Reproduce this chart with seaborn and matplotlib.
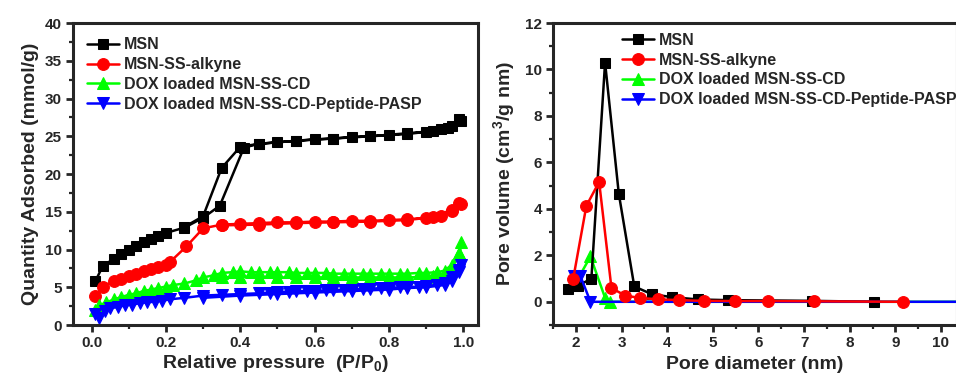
import numpy as np
import matplotlib
matplotlib.use("Agg")
import matplotlib.pyplot as plt
from matplotlib.ticker import MultipleLocator
import seaborn as sns

# --- left panel: N2 isotherms (adsorption then desorption) ---
msn_p = [0.01, 0.03, 0.06, 0.08, 0.10, 0.12, 0.14, 0.16, 0.18, 0.20, 0.25, 0.30, 0.345, 0.41,
         0.45, 0.50, 0.55, 0.60, 0.65, 0.70, 0.75, 0.80, 0.85, 0.90, 0.94, 0.97, 0.99,
         0.995, 0.96, 0.92, 0.85, 0.75, 0.65, 0.55, 0.45, 0.40, 0.35, 0.30, 0.25]
msn_q = [5.8, 7.8, 8.8, 9.4, 10.0, 10.5, 11.0, 11.4, 11.8, 12.2, 12.9, 14.2, 15.8, 23.5,
         24.0, 24.2, 24.4, 24.6, 24.7, 24.9, 25.0, 25.2, 25.4, 25.6, 25.9, 26.3, 27.3,
         27.0, 26.1, 25.7, 25.3, 25.0, 24.7, 24.4, 24.0, 23.6, 20.8, 14.4, 13.0]

alk_p = [0.01, 0.03, 0.06, 0.08, 0.10, 0.12, 0.14, 0.16, 0.18, 0.20, 0.21, 0.255, 0.30, 0.35,
         0.40, 0.45, 0.50, 0.55, 0.60, 0.65, 0.70, 0.75, 0.80, 0.85, 0.90, 0.94, 0.97, 0.99,
         0.995, 0.97, 0.92, 0.85, 0.75, 0.65, 0.55, 0.45, 0.35]
alk_q = [3.8, 5.1, 5.8, 6.1, 6.5, 6.8, 7.1, 7.4, 7.7, 8.0, 8.3, 10.4, 12.8, 13.3,
         13.4, 13.5, 13.6, 13.6, 13.7, 13.7, 13.8, 13.8, 13.9, 14.0, 14.2, 14.5, 15.1, 16.2,
         16.0, 15.3, 14.3, 13.9, 13.7, 13.6, 13.5, 13.3, 13.2]

cd_p = [0.01, 0.02, 0.04, 0.06, 0.08, 0.10, 0.12, 0.14, 0.16, 0.18, 0.20, 0.22, 0.25, 0.28,
        0.30, 0.33, 0.35, 0.38, 0.40, 0.43, 0.45, 0.48, 0.50, 0.53, 0.55, 0.58, 0.60, 0.63,
        0.65, 0.68, 0.70, 0.73, 0.75, 0.78, 0.80, 0.83, 0.85, 0.88, 0.90, 0.93, 0.95, 0.97,
        0.99, 0.995,
        0.99, 0.97, 0.95, 0.92, 0.90, 0.85, 0.80, 0.75, 0.70, 0.65, 0.60, 0.55, 0.50, 0.45,
        0.40, 0.35]
cd_q = [2.0, 2.6, 3.0, 3.4, 3.7, 4.0, 4.2, 4.5, 4.7, 4.9, 5.1, 5.3, 5.5, 5.9,
        6.3, 6.6, 6.9, 7.0, 7.1, 7.0, 7.0, 7.0, 7.0, 7.0, 6.9, 6.9, 6.9, 6.9,
        6.8, 6.8, 6.8, 6.8, 6.8, 6.8, 6.8, 6.8, 6.8, 6.9, 6.9, 7.0, 7.2, 8.0,
        9.5, 11.0,
        9.5, 7.5, 6.8, 6.5, 6.4, 6.3, 6.3, 6.3, 6.3, 6.3, 6.3, 6.3, 6.3, 6.4,
        6.4, 6.3]

pasp_p = [0.01, 0.02, 0.035, 0.05, 0.07, 0.09, 0.11, 0.13, 0.15, 0.17, 0.19, 0.21, 0.25, 0.30,
          0.35, 0.40, 0.45, 0.48, 0.50, 0.53, 0.55, 0.58, 0.60, 0.63, 0.65, 0.68, 0.70, 0.73,
          0.75, 0.78, 0.80, 0.83, 0.85, 0.88, 0.90, 0.93, 0.95, 0.97, 0.99, 0.995,
          0.99, 0.97, 0.95, 0.90, 0.85, 0.80, 0.70, 0.60, 0.50, 0.40, 0.30]
pasp_q = [1.5, 0.9, 1.9, 2.2, 2.4, 2.6, 2.7, 2.9, 3.0, 3.1, 3.2, 3.4, 3.6, 3.9,
          4.0, 4.1, 4.2, 4.3, 4.4, 4.4, 4.5, 4.5, 4.5, 4.6, 4.6, 4.7, 4.7, 4.8,
          4.8, 4.9, 4.9, 5.0, 5.0, 5.1, 5.2, 5.3, 5.5, 6.3, 7.3, 8.0,
          7.0, 5.8, 5.3, 5.0, 4.9, 4.7, 4.5, 4.3, 4.1, 3.9, 3.6]

# --- right panel: pore size distribution ---
msn_d = [1.83, 2.05, 2.34, 2.64, 2.94, 3.28, 3.66, 4.10, 4.68, 5.34, 7.18, 8.54]
msn_v = [0.55, 0.69, 1.0, 10.3, 4.66, 0.66, 0.33, 0.20, 0.10, 0.07, 0.04, 0.0]

alk_d = [1.94, 2.23, 2.51, 2.78, 3.08, 3.41, 3.79, 4.25, 4.80, 5.49, 6.21, 7.22, 9.16]
alk_v = [0.97, 4.13, 5.16, 0.59, 0.27, 0.16, 0.11, 0.07, 0.04, 0.03, 0.03, 0.02, 0.0]

cd_d = [2.05, 2.32, 2.64, 2.75, 4.0, 6.0, 8.0, 10.5]
cd_v = [1.0, 1.95, 0.17, 0.0, 0.0, 0.0, 0.0, 0.0]

pasp_d = [1.95, 2.10, 2.32, 4.0, 6.0, 8.0, 10.5]
pasp_v = [1.1, 1.1, 0.0, 0.0, 0.0, 0.0, 0.0]

labels = ["MSN", "MSN-SS-alkyne", "DOX loaded MSN-SS-CD", "DOX loaded MSN-SS-CD-Peptide-PASP"]
colors = ["black", "red", "#00ff00", "blue"]
markers = ["s", "o", "^", "v"]

sns.set_style("ticks")
plt.rcParams["font.family"] = ["Liberation Sans", "DejaVu Sans"]
plt.rcParams["font.weight"] = "bold"
plt.rcParams["axes.labelweight"] = "bold"
plt.rcParams["mathtext.fontset"] = "custom"
plt.rcParams["mathtext.rm"] = "Liberation Sans:bold"
plt.rcParams["mathtext.default"] = "rm"

fig = plt.figure(figsize=(9.56, 3.83), dpi=100)
ax1 = fig.add_axes([0.0764, 0.1514, 0.4236, 0.7885])
ax2 = fig.add_axes([0.5785, 0.1514, 0.4225, 0.7885])

lw = 1.8
left_sets = [(msn_p, msn_q, 7.5), (alk_p, alk_q, 8.5), (cd_p, cd_q, 8.5), (pasp_p, pasp_q, 8.5)]
for (x, y, ms), lab, c, m in zip(left_sets, labels, colors, markers):
    sns.lineplot(x=x, y=y, ax=ax1, sort=False, estimator=None, color=c, marker=m,
                 markersize=ms, markeredgecolor=c, linewidth=lw, label=lab)

right_sets = [(msn_d, msn_v, 7.5, None, 3), (alk_d, alk_v, 8.5, None, 4),
              (cd_d, cd_v, 8.5, [0, 1, 2, 3], 2.6), (pasp_d, pasp_v, 8.5, [0, 1, 2], 3.5)]
for (x, y, ms, me, z), lab, c, m in zip(right_sets, labels, colors, markers):
    sns.lineplot(x=x, y=y, ax=ax2, sort=False, estimator=None, color=c, marker=m,
                 markersize=ms, markeredgecolor=c, linewidth=lw, label=lab,
                 markevery=me, zorder=z)

ax1.set_xlim(-0.05, 1.04)
ax1.set_ylim(0, 40)
ax1.xaxis.set_major_locator(MultipleLocator(0.2))
ax1.xaxis.set_minor_locator(MultipleLocator(0.1))
ax1.yaxis.set_major_locator(MultipleLocator(5))
ax1.yaxis.set_minor_locator(MultipleLocator(2.5))
ax1.set_xlabel("Relative pressure  (P/P$_0$)", fontsize=14, fontweight="bold", labelpad=2)
ax1.set_ylabel("Quantity Adsorbed (mmol/g)", fontsize=14, fontweight="bold", labelpad=4)

ax2.set_xlim(1.5, 10.35)
ax2.set_ylim(-1, 12)
ax2.xaxis.set_major_locator(MultipleLocator(1))
ax2.xaxis.set_minor_locator(MultipleLocator(0.5))
ax2.yaxis.set_major_locator(MultipleLocator(2))
ax2.yaxis.set_minor_locator(MultipleLocator(1))
ax2.set_xlabel("Pore diameter (nm)", fontsize=14, fontweight="bold", labelpad=4)
ax2.set_ylabel("Pore volume (cm$^3$/g nm)", fontsize=14, fontweight="bold", labelpad=6)

for ax in (ax1, ax2):
    for sp in ax.spines.values():
        sp.set_linewidth(2.2)
        sp.set_visible(True)
    ax.tick_params(which="major", direction="out", length=5, width=2, labelsize=11, pad=3)
    ax.tick_params(which="minor", direction="out", length=3, width=1.6)

ax1.legend(loc="upper left", bbox_to_anchor=(0.0, 1.0), frameon=False,
           prop={"size": 11.5, "weight": "bold"},
           handlelength=2.0, handletextpad=0.3, labelspacing=0.3, borderaxespad=0.5)
ax2.legend(loc="upper left", bbox_to_anchor=(0.14, 1.01), frameon=False,
           prop={"size": 11.5, "weight": "bold"},
           handlelength=2.0, handletextpad=0.3, labelspacing=0.3, borderaxespad=0.4)

fig.canvas.draw()
for ax in (ax1, ax2):
    for t in ax.get_xticklabels() + ax.get_yticklabels():
        t.set_fontweight("bold")

fig.savefig("out.png", dpi=100)
